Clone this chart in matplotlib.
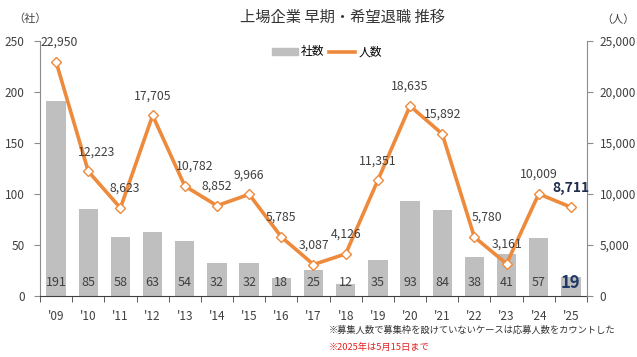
import matplotlib
matplotlib.use("Agg")
import matplotlib.pyplot as plt
from matplotlib.patches import Patch
from matplotlib.lines import Line2D
import numpy as np

plt.rcParams['font.family'] = ['Noto Sans CJK JP', 'DejaVu Sans']

years = ["'09", "'10", "'11", "'12", "'13", "'14", "'15", "'16", "'17",
         "'18", "'19", "'20", "'21", "'22", "'23", "'24", "'25"]
companies = [191, 85, 58, 63, 54, 32, 32, 18, 25, 12, 35, 93, 84, 38, 41, 57, 19]
people = [22950, 12223, 8623, 17705, 10782, 8852, 9966, 5785, 3087, 4126,
          11351, 18635, 15892, 5780, 3161, 10009, 8711]

# horizontal nudges (points) for a few line labels
label_dx = [2, 6, 3, 0, 7, 0, 0, 0, 0, 0, 0, 0, 0, 9, 0, 0, 0]

bar_color = '#BFBFBF'
line_color = '#EE8A3C'
text_color = '#404040'

fig = plt.figure(figsize=(6.37, 3.57), dpi=100)
ax = fig.add_axes([0.0628, 0.1709, 0.8587, 0.7143])
ax2 = ax.twinx()

x = np.arange(len(years))
ax.bar(x, companies, width=0.6, color=bar_color, zorder=1)
ax.set_xlim(-0.5, len(years) - 0.5)
ax.set_ylim(0, 250)
ax.set_yticks(range(0, 251, 50))

for i, v in enumerate(companies):
    last = i == len(companies) - 1
    ax.annotate(str(v), (i, 0), xytext=(0, 9.5), textcoords='offset points',
                ha='center', va='center',
                fontsize=12 if last else 9,
                fontweight='bold' if last else 'normal',
                color='#1F3864' if last else text_color, zorder=3)

ax2.plot(x, people, color=line_color, lw=2.6, marker='D', markersize=5,
         markerfacecolor='white', markeredgecolor=line_color,
         markeredgewidth=1, zorder=2)
ax2.set_ylim(0, 25000)
ax2.set_yticks(range(0, 25001, 5000))
ax2.yaxis.set_major_formatter(matplotlib.ticker.FuncFormatter(lambda v, p: f'{int(v):,}'))

for i, v in enumerate(people):
    last = i == len(people) - 1
    ax2.annotate(f'{v:,}', (i, v), xytext=(label_dx[i], 14), textcoords='offset points',
                 ha='center', va='center',
                 fontsize=10 if last else 8.8,
                 fontweight='bold' if last else 'normal',
                 color='#1F2D4D' if last else text_color)

ax.set_zorder(0)
ax2.set_zorder(1)
ax2.patch.set_visible(False)

# x ticks: labels at centers, marks at boundaries
ax.set_xticks(x)
ax.set_xticklabels(years, fontsize=8.5, color=text_color)
ax.tick_params(axis='x', which='major', length=0, pad=10)
ax.set_xticks(np.arange(-0.5, len(years), 1), minor=True)
ax.tick_params(axis='x', which='minor', length=4, direction='out', color='#404040')

ax.tick_params(axis='y', labelsize=8.5, colors=text_color, length=4, color='#8C8C8C', pad=7)
ax2.tick_params(axis='y', labelsize=8.5, colors=text_color, length=4, color='#8C8C8C', pad=5)

for a in (ax, ax2):
    a.spines['top'].set_visible(False)
    a.spines['left'].set_color('#8C8C8C')
    a.spines['right'].set_color('#8C8C8C')
    a.spines['bottom'].set_color('#404040')
ax.spines['right'].set_visible(False)
ax2.spines['left'].set_visible(False)
ax2.spines['bottom'].set_visible(False)

fig.text(342 / 637, 1 - 17 / 357, '上場企業 早期・希望退職 推移', ha='center', va='center',
         fontsize=11, color='#333333')
fig.text(30 / 637, 1 - 19 / 357, '（社）', ha='center', va='center', fontsize=8, color=text_color)
fig.text(618 / 637, 1 - 20 / 357, '（人）', ha='center', va='center', fontsize=8, color=text_color)

handles = [Patch(color=bar_color, label='社数'),
           Line2D([0], [0], color=line_color, lw=2.6, label='人数')]
fig.legend(handles=handles, loc='center', bbox_to_anchor=(327 / 637, 1 - 52 / 357),
           ncol=2, frameon=False, fontsize=8.5, handlelength=2.2, handleheight=0.5,
           columnspacing=0.4, handletextpad=0.3)

fig.text(329 / 637, 1 - 330 / 357, '※募集人数で募集枠を設けていないケースは応募人数をカウントした',
         ha='left', va='center', fontsize=6.7, color='#333333')
fig.text(329 / 637, 1 - 347 / 357, '※2025年は5月15日まで',
         ha='left', va='center', fontsize=6.7, color='#E02020')

fig.savefig('out.png', dpi=100)
